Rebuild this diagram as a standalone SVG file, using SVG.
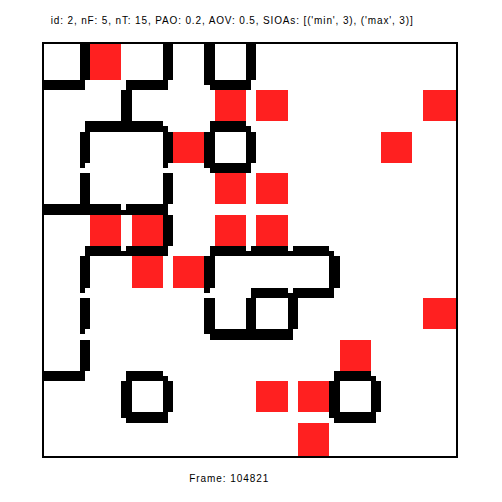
<svg xmlns="http://www.w3.org/2000/svg" xmlns:xlink="http://www.w3.org/1999/xlink" width="502" height="502" viewBox="0 0 502 502">
<style>
.lbl{font-family:"Liberation Sans",Arial,sans-serif;font-size:10px;fill:#000}
.t{fill:#ff2020}
.w{fill:#000}
</style>
<defs>
<path id="hw" d="M0,-1h7v1h1v1h-8z"/>
<path id="vw" d="M-1,1h2v6h-1v1h-1z"/>
<path id="vwTop" d="M-1,0h2v7h-1v1h-1z"/>
</defs>
<rect width="502" height="502" fill="#fff"/>
<text id="title" class="lbl" x="50.7" y="24" textLength="362" lengthAdjust="spacing">id: 2, nF: 5, nT: 15, PAO: 0.2, AOV: 0.5, SIOAs: [('min', 3), ('max', 3)]</text>
<g id="grid" transform="translate(43.2 43.2) scale(5.2)" shape-rendering="crispEdges">
<g id="targets" class="t">
<rect x="9" y="0" width="6" height="7"/>
<rect x="33" y="9" width="6" height="6"/>
<rect x="41" y="9" width="6" height="6"/>
<rect x="73" y="9" width="6.6" height="6"/>
<rect x="25" y="17" width="6" height="6"/>
<rect x="65" y="17" width="6" height="6"/>
<rect x="33" y="25" width="6" height="6"/>
<rect x="41" y="25" width="6" height="6"/>
<rect x="9" y="33" width="6" height="6"/>
<rect x="17" y="33" width="6" height="6"/>
<rect x="33" y="33" width="6" height="6"/>
<rect x="41" y="33" width="6" height="6"/>
<rect x="17" y="41" width="6" height="6"/>
<rect x="25" y="41" width="6" height="6"/>
<rect x="73" y="49" width="6.6" height="6"/>
<rect x="57" y="57" width="6" height="6"/>
<rect x="41" y="65" width="6" height="6"/>
<rect x="49" y="65" width="6" height="6"/>
<rect x="49" y="73" width="6" height="6.6"/>
</g>
<g id="walls" class="w">
<use xlink:href="#hw" x="0" y="8"/>
<use xlink:href="#hw" x="16" y="8"/>
<use xlink:href="#hw" x="32" y="8"/>
<use xlink:href="#hw" x="8" y="16"/>
<use xlink:href="#hw" x="16" y="16"/>
<use xlink:href="#hw" x="32" y="16"/>
<use xlink:href="#hw" x="32" y="24"/>
<use xlink:href="#hw" x="0" y="32"/>
<use xlink:href="#hw" x="8" y="32"/>
<use xlink:href="#hw" x="16" y="32"/>
<use xlink:href="#hw" x="8" y="40"/>
<use xlink:href="#hw" x="16" y="40"/>
<use xlink:href="#hw" x="32" y="40"/>
<use xlink:href="#hw" x="40" y="40"/>
<use xlink:href="#hw" x="48" y="40"/>
<use xlink:href="#hw" x="40" y="48"/>
<use xlink:href="#hw" x="48" y="48"/>
<use xlink:href="#hw" x="32" y="56"/>
<use xlink:href="#hw" x="40" y="56"/>
<use xlink:href="#hw" x="0" y="64"/>
<use xlink:href="#hw" x="16" y="64"/>
<use xlink:href="#hw" x="56" y="64"/>
<use xlink:href="#hw" x="16" y="72"/>
<use xlink:href="#hw" x="56" y="72"/>
<use xlink:href="#vwTop" x="8" y="0"/>
<use xlink:href="#vwTop" x="24" y="0"/>
<use xlink:href="#vwTop" x="32" y="0"/>
<use xlink:href="#vwTop" x="40" y="0"/>
<use xlink:href="#vw" x="16" y="8"/>
<use xlink:href="#vw" x="8" y="16"/>
<use xlink:href="#vw" x="24" y="16"/>
<use xlink:href="#vw" x="32" y="16"/>
<use xlink:href="#vw" x="40" y="16"/>
<use xlink:href="#vw" x="8" y="24"/>
<use xlink:href="#vw" x="24" y="24"/>
<use xlink:href="#vw" x="24" y="32"/>
<use xlink:href="#vw" x="8" y="40"/>
<use xlink:href="#vw" x="32" y="40"/>
<use xlink:href="#vw" x="56" y="40"/>
<use xlink:href="#vw" x="8" y="48"/>
<use xlink:href="#vw" x="32" y="48"/>
<use xlink:href="#vw" x="40" y="48"/>
<use xlink:href="#vw" x="48" y="48"/>
<use xlink:href="#vw" x="8" y="56"/>
<use xlink:href="#vw" x="16" y="64"/>
<use xlink:href="#vw" x="24" y="64"/>
<use xlink:href="#vw" x="56" y="64"/>
<use xlink:href="#vw" x="64" y="64"/>
</g>
</g>
<rect id="frame" x="43" y="43" width="414" height="414" fill="none" stroke="#000" stroke-width="2"/>
<text id="footer" class="lbl" x="189.3" y="482.3" textLength="79" lengthAdjust="spacing">Frame: 104821</text>
</svg>
